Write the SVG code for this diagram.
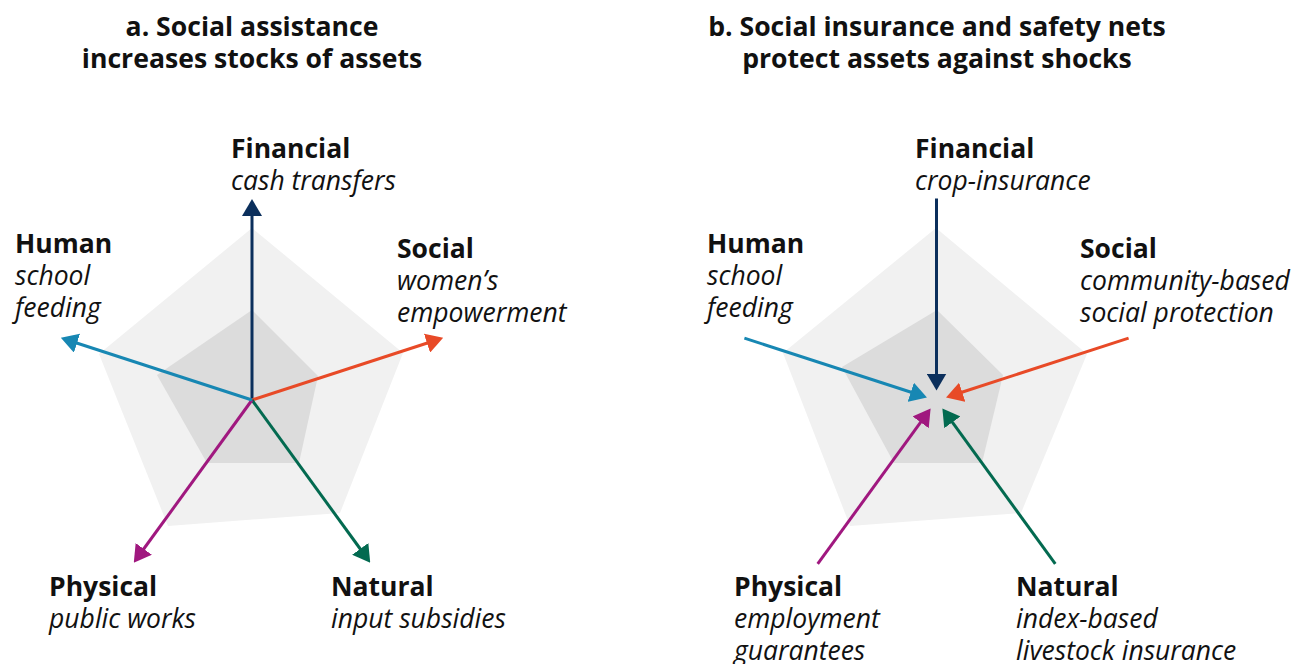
<svg xmlns="http://www.w3.org/2000/svg" width="1293" height="664" viewBox="0 0 1293 664">
  <style>
    .title { font-family: "Open Sans", "Noto Sans", "Liberation Sans", sans-serif; font-size: 26.6px; font-weight: 700; fill: #111; text-anchor: middle; }
    .head { font-family: "Open Sans", "Noto Sans", "Liberation Sans", sans-serif; font-size: 26.5px; font-weight: 700; fill: #111; }
    .sub { font-family: "Open Sans", "Noto Sans", "Liberation Sans", sans-serif; font-size: 26.5px; font-style: italic; fill: #111; }
    .outer { fill: #f1f1f1; }
    .inner { fill: #dcdcdc; }
    .arrow { stroke-width: 3; fill: none; stroke-linecap: butt; }
    .navy { stroke: #0b2f5c; }
    .blue { stroke: #1787b3; }
    .orange { stroke: #e84a27; }
    .purple { stroke: #a0187f; }
    .green { stroke: #036a50; }
  </style>
  <defs>
    <marker id="ah-navy" markerUnits="userSpaceOnUse" markerWidth="17" markerHeight="20" refX="2" refY="10" orient="auto"><path d="M0,0 L17,10 L0,20 Z" fill="#0b2f5c"/></marker>
    <marker id="ah-blue" markerUnits="userSpaceOnUse" markerWidth="17" markerHeight="20" refX="2" refY="10" orient="auto"><path d="M0,0 L17,10 L0,20 Z" fill="#1787b3"/></marker>
    <marker id="ah-orange" markerUnits="userSpaceOnUse" markerWidth="17" markerHeight="20" refX="2" refY="10" orient="auto"><path d="M0,0 L17,10 L0,20 Z" fill="#e84a27"/></marker>
    <marker id="ah-purple" markerUnits="userSpaceOnUse" markerWidth="17" markerHeight="20" refX="2" refY="10" orient="auto"><path d="M0,0 L17,10 L0,20 Z" fill="#a0187f"/></marker>
    <marker id="ah-green" markerUnits="userSpaceOnUse" markerWidth="17" markerHeight="20" refX="2" refY="10" orient="auto"><path d="M0,0 L17,10 L0,20 Z" fill="#036a50"/></marker>
  </defs>

  <!-- Panel a: social assistance -->
  <g id="panel-a">
    <text class="title" x="252" y="36">a. Social assistance</text>
    <text class="title" x="252" y="67.5">increases stocks of assets</text>
    <g id="a-backdrop">
      <polygon class="outer" points="252,228 403,353 340,513 168,526 99,354"/>
      <polygon class="inner" points="252,310 318,376 299,463 207,463 157,375"/>
    </g>
    <g id="a-connectors">
      <line class="arrow navy" x1="252" y1="400" x2="252" y2="214" marker-end="url(#ah-navy)"/>
      <line class="arrow orange" x1="252" y1="400" x2="428.9" y2="342.5" marker-end="url(#ah-orange)"/>
      <line class="arrow green" x1="252" y1="400" x2="361.4" y2="550.5" marker-end="url(#ah-green)"/>
      <line class="arrow purple" x1="252" y1="400" x2="142.6" y2="550.5" marker-end="url(#ah-purple)"/>
      <line class="arrow blue" x1="252" y1="400" x2="75.1" y2="342.5" marker-end="url(#ah-blue)"/>
    </g>
    <g id="a-financial">
      <text class="head" x="231" y="157.5">Financial</text>
      <text class="sub" x="231" y="189.5">cash transfers</text>
    </g>
    <g id="a-human">
      <text class="head" x="15" y="253">Human</text>
      <text class="sub" x="15" y="285">school</text>
      <text class="sub" x="15" y="317">feeding</text>
    </g>
    <g id="a-social">
      <text class="head" x="397" y="257.5">Social</text>
      <text class="sub" x="397" y="289.5">women’s</text>
      <text class="sub" x="397" y="321.5">empowerment</text>
    </g>
    <g id="a-physical">
      <text class="head" x="49" y="596">Physical</text>
      <text class="sub" x="49" y="628">public works</text>
    </g>
    <g id="a-natural">
      <text class="head" x="331" y="596">Natural</text>
      <text class="sub" x="331" y="628">input subsidies</text>
    </g>
  </g>

  <!-- Panel b: social insurance and safety nets -->
  <g id="panel-b">
    <text class="title" x="937" y="36">b. Social insurance and safety nets</text>
    <text class="title" x="937" y="67.5">protect assets against shocks</text>
    <g id="b-backdrop">
      <polygon class="outer" points="936,228 1087,354 1021,513 850,526 783,353"/>
      <polygon class="inner" points="937,310 1003,375 982,463 894,463 842,367"/>
    </g>
    <g id="b-connectors">
      <line class="arrow navy" x1="936.5" y1="198.5" x2="936.5" y2="375.5" marker-end="url(#ah-navy)"/>
      <line class="arrow orange" x1="1128.6" y1="338.1" x2="960.3" y2="392.8" marker-end="url(#ah-orange)"/>
      <line class="arrow green" x1="1055.3" y1="563.9" x2="951.2" y2="420.7" marker-end="url(#ah-green)"/>
      <line class="arrow purple" x1="817.7" y1="563.9" x2="921.8" y2="420.7" marker-end="url(#ah-purple)"/>
      <line class="arrow blue" x1="744.4" y1="338.1" x2="912.7" y2="392.8" marker-end="url(#ah-blue)"/>
    </g>
    <g id="b-financial">
      <text class="head" x="915" y="157.5">Financial</text>
      <text class="sub" x="915" y="189.5">crop-insurance</text>
    </g>
    <g id="b-human">
      <text class="head" x="707" y="253">Human</text>
      <text class="sub" x="707" y="285">school</text>
      <text class="sub" x="707" y="317">feeding</text>
    </g>
    <g id="b-social">
      <text class="head" x="1080" y="257.5">Social</text>
      <text class="sub" x="1080" y="289.5">community-based</text>
      <text class="sub" x="1080" y="321.5">social protection</text>
    </g>
    <g id="b-physical">
      <text class="head" x="734" y="596">Physical</text>
      <text class="sub" x="734" y="628">employment</text>
      <text class="sub" x="734" y="660">guarantees</text>
    </g>
    <g id="b-natural">
      <text class="head" x="1016" y="596">Natural</text>
      <text class="sub" x="1016" y="628">index-based</text>
      <text class="sub" x="1016" y="660">livestock insurance</text>
    </g>
  </g>
</svg>
